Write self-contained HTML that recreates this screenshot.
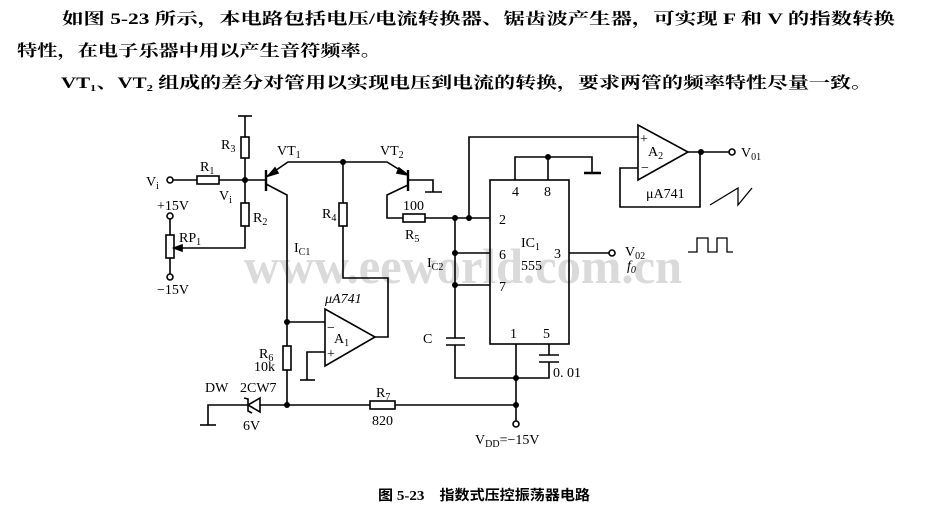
<!DOCTYPE html>
<html><head><meta charset="utf-8"><style>
body{margin:0;background:#fff}
svg{display:block}
text{font-family:"Liberation Serif","Noto Serif CJK SC",serif;fill:#000}
.c{font-family:"Liberation Serif","Noto Serif CJK SC","Noto Sans CJK SC",serif;font-size:16px;font-weight:bold}
.l{font-size:14px}
.s{font-size:10px}
</style></head><body>
<svg width="928" height="516" viewBox="0 0 928 516" xmlns="http://www.w3.org/2000/svg">
<text class="c" x="62" y="24" textLength="833" lengthAdjust="spacingAndGlyphs">如图 5-23 所示，本电路包括电压/电流转换器、锯齿波产生器，可实现 F 和 V 的指数转换</text>
<text class="c" x="17" y="56" textLength="364" lengthAdjust="spacingAndGlyphs">特性，在电子乐器中用以产生音符频率。</text>
<text class="c" x="61" y="88" textLength="811" lengthAdjust="spacingAndGlyphs">VT₁、VT₂ 组成的差分对管用以实现电压到电流的转换，要求两管的频率特性尽量一致。</text>
<text x="244" y="283" style="font-size:50px;font-weight:bold;fill:#dadada" textLength="438" lengthAdjust="spacingAndGlyphs">www.eeworld.com.cn</text>
<g stroke="#000" stroke-width="1.6" fill="none">
<circle cx="170" cy="180" r="3" fill="#fff"/>
<line x1="173" y1="180" x2="197" y2="180"/>
<rect x="197" y="176" width="22" height="8"/>
<line x1="219" y1="180" x2="265" y2="180"/>
<line x1="245" y1="116" x2="245" y2="137"/><line x1="238" y1="116" x2="252" y2="116"/>
<rect x="241" y="137" width="8" height="21"/>
<line x1="245" y1="158" x2="245" y2="203"/>
<rect x="241" y="203" width="8" height="23"/>
<polyline points="245,226 245,248 176,248"/>
<polygon points="174,248 182,245 182,251" fill="#000"/>
<circle cx="170" cy="216" r="3" fill="#fff"/>
<line x1="170" y1="219" x2="170" y2="235"/>
<rect x="166" y="235" width="8" height="23"/>
<line x1="170" y1="258" x2="170" y2="274"/>
<circle cx="170" cy="277" r="3" fill="#fff"/>
<line x1="266" y1="170" x2="266" y2="191" stroke-width="2.4"/>
<polyline points="266,177 288,162 343,162"/>
<polygon points="268,176 275,168 278,173" fill="#000"/>
<polyline points="266,184 287,195 287,405"/>
<polyline points="343,162 387,162 408,175"/>
<polygon points="408,175 399,168 397,173" fill="#000"/>
<line x1="408" y1="170" x2="408" y2="191" stroke-width="2.4"/>
<polyline points="408,180 433,180 433,192"/><line x1="425" y1="192" x2="442" y2="192"/>
<polyline points="408,185 387,195 387,218 403,218"/>
<rect x="403" y="214" width="22" height="8"/>
<line x1="425" y1="218" x2="490" y2="218"/>
<line x1="343" y1="162" x2="343" y2="203"/>
<rect x="339" y="203" width="8" height="23"/>
<polyline points="343,226 343,278 388,278 388,337 375,337"/>
<polygon points="325,309 325,366 375,337"/>
<line x1="287" y1="322" x2="325" y2="322"/>
<polyline points="325,352 307,352 307,380"/><line x1="300" y1="380" x2="315" y2="380"/>
<rect x="283" y="346" width="8" height="24" fill="#fff"/>
<polyline points="208,425 208,405 516,405"/><line x1="200" y1="425" x2="216" y2="425"/>
<rect x="370" y="401" width="25" height="8" fill="#fff"/>
<polygon points="248,405 260,398 260,412" fill="#fff"/>
<polyline points="244,398 248,399 248,411 252,413"/>
<line x1="516" y1="344" x2="516" y2="421"/>
<circle cx="516" cy="424" r="3" fill="#fff"/>
<rect x="490" y="180" width="79" height="164"/>
<polyline points="515,180 515,157 592,157 592,172"/><line x1="548" y1="157" x2="548" y2="180"/>
<line x1="584" y1="173" x2="601" y2="173" stroke-width="2.6"/>
<polyline points="469,218 469,137 638,137"/>
<line x1="455" y1="218" x2="455" y2="338"/>
<line x1="446" y1="338" x2="465" y2="338"/><line x1="446" y1="345" x2="465" y2="345"/>
<polyline points="455,345 455,378 549,378 549,362"/>
<line x1="539" y1="362" x2="559" y2="362"/><line x1="539" y1="355" x2="559" y2="355"/>
<line x1="549" y1="355" x2="549" y2="344"/>
<line x1="455" y1="253" x2="490" y2="253"/><line x1="455" y1="285" x2="490" y2="285"/>
<line x1="569" y1="253" x2="609" y2="253"/><circle cx="612" cy="253" r="3" fill="#fff"/>
<polygon points="638,125 638,180 688,152"/>
<line x1="688" y1="152" x2="729" y2="152"/><circle cx="732" cy="152" r="3" fill="#fff"/>
<polyline points="638,168 620,168 620,207 700,207 700,152"/>
<polyline points="710,205 738,188 738,205 752,188" stroke-width="1.3"/>
<polyline points="688,252 697,252 697,238 708,238 708,252 717,252 717,238 727,238 727,252 733,252" stroke-width="1.3"/>
</g>
<g fill="#000">
<circle cx="245" cy="180" r="3"/><circle cx="343" cy="162" r="3"/><circle cx="455" cy="218" r="3"/><circle cx="469" cy="218" r="3"/>
<circle cx="455" cy="253" r="3"/><circle cx="455" cy="285" r="3"/><circle cx="548" cy="157" r="3"/><circle cx="701" cy="152" r="3"/>
<circle cx="287" cy="322" r="3"/><circle cx="287" cy="405" r="3"/><circle cx="516" cy="378" r="3"/><circle cx="516" cy="405" r="3"/>
</g>
<g class="l">
<text x="146" y="186">V<tspan class="s" dy="3">i</tspan></text>
<text x="200" y="171">R<tspan class="s" dy="3">1</tspan></text>
<text x="219" y="200">V<tspan class="s" dy="3">i</tspan></text>
<text x="221" y="149">R<tspan class="s" dy="3">3</tspan></text>
<text x="253" y="222">R<tspan class="s" dy="3">2</tspan></text>
<text x="157" y="210">+15V</text>
<text x="179" y="242">RP<tspan class="s" dy="3">1</tspan></text>
<text x="157" y="294">−15V</text>
<text x="277" y="155">VT<tspan class="s" dy="3">1</tspan></text>
<text x="380" y="155">VT<tspan class="s" dy="3">2</tspan></text>
<text x="322" y="218">R<tspan class="s" dy="3">4</tspan></text>
<text x="403" y="210">100</text>
<text x="405" y="239">R<tspan class="s" dy="3">5</tspan></text>
<text x="294" y="252">I<tspan class="s" dy="3">C1</tspan></text>
<text x="427" y="267">I<tspan class="s" dy="3">C2</tspan></text>
<text x="325" y="303" font-style="italic">μA741</text>
<text x="334" y="343">A<tspan class="s" dy="3">1</tspan></text>
<text x="327" y="332">−</text><text x="327" y="358">+</text>
<text x="259" y="358">R<tspan class="s" dy="3">6</tspan></text>
<text x="254" y="371">10k</text>
<text x="205" y="392">DW</text><text x="240" y="392">2CW7</text>
<text x="243" y="430">6V</text>
<text x="376" y="397">R<tspan class="s" dy="3">7</tspan></text>
<text x="372" y="425">820</text>
<text x="475" y="444">V<tspan class="s" dy="3">DD</tspan><tspan dy="-3">=−15V</tspan></text>
<text x="423" y="343">C</text>
<text x="553" y="377">0. 01</text>
<text x="512" y="196">4</text><text x="544" y="196">8</text>
<text x="499" y="224">2</text><text x="499" y="259">6</text><text x="499" y="291">7</text>
<text x="510" y="338">1</text><text x="543" y="338">5</text><text x="554" y="258">3</text>
<text x="521" y="247">IC<tspan class="s" dy="3">1</tspan></text>
<text x="521" y="270">555</text>
<text x="625" y="256">V<tspan class="s" dy="3">02</tspan></text>
<text x="627" y="270" font-style="italic">f<tspan class="s" dy="3">0</tspan></text>
<text x="648" y="156">A<tspan class="s" dy="3">2</tspan></text>
<text x="640" y="143">+</text><text x="641" y="172">−</text>
<text x="646" y="198">μA741</text>
<text x="741" y="157">V<tspan class="s" dy="3">01</tspan></text>
</g>
<text x="378" y="500" style="font-size:14px;font-family:'Liberation Serif','Noto Sans CJK SC',sans-serif;font-weight:bold" textLength="212" lengthAdjust="spacingAndGlyphs">图 5-23　指数式压控振荡器电路</text>
</svg>
</body></html>
